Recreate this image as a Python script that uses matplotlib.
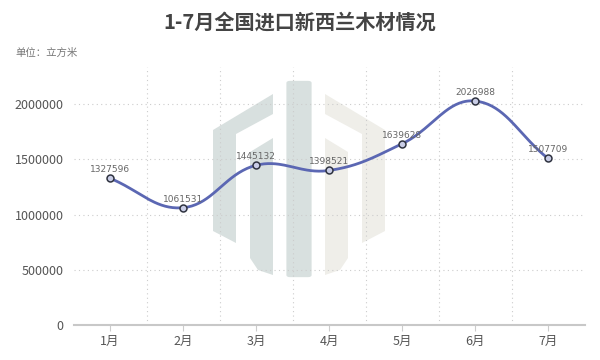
import matplotlib
matplotlib.use('Agg')
import matplotlib.pyplot as plt
import numpy as np
from matplotlib.patches import Polygon, FancyBboxPatch

plt.rcParams['font.family'] = ['Noto Sans CJK SC', 'DejaVu Sans']

# Data
months = ["1月", "2月", "3月", "4月", "5月", "6月", "7月"]
volumes = [1327596, 1061531, 1445132, 1398521, 1639628, 2026988, 1507709]
y_ticks = [0, 500000, 1000000, 1500000, 2000000]

W, H = 600, 360
fig = plt.figure(figsize=(6, 3.6), dpi=100)
ax = fig.add_axes([73.5 / W, 1 - 325 / H, 511 / W, 258 / H])
ax.set_zorder(2)
ax.set_facecolor('none')

# Watermark logo (background decoration, pixel coords)
def px(pts):
    return [(x / W, 1 - y / H) for x, y in pts]

green = '#d8e0df'
beige = '#efeee9'
left_outer = [(273, 94), (273, 114), (236, 134), (236, 243), (213, 231), (213, 130)]
left_inner = [(273, 138), (273, 275), (258, 270), (250, 258), (250, 152)]
for poly in [left_outer, left_inner]:
    fig.patches.append(Polygon(px(poly), closed=True, transform=fig.transFigure,
                               facecolor=green, edgecolor='none', zorder=0))
    mirrored = [(598 - x, y) for x, y in poly]
    fig.patches.append(Polygon(px(mirrored), closed=True, transform=fig.transFigure,
                               facecolor=beige, edgecolor='none', zorder=0))
fig.patches.append(FancyBboxPatch((290 / W, 1 - 275 / H), 18 / W, 192 / H,
                                  boxstyle="round,pad=0.006", transform=fig.transFigure,
                                  facecolor=green, edgecolor='none', zorder=0))

# Smooth curve (bezier like echarts smooth)
x = np.arange(len(months), dtype=float)
y = np.array(volumes, dtype=float)
sx, sy = 73.0, 110.5 / 1e6
P = np.column_stack([x * sx, y * sy])
smooth = 0.4
n = len(P)
cps = []
for i in range(n):
    prev = P[max(i - 1, 0)]
    nxt = P[min(i + 1, n - 1)]
    v = (nxt - prev) * smooth
    d0 = np.linalg.norm(P[i] - prev)
    d1 = np.linalg.norm(P[i] - nxt)
    s = d0 + d1 if d0 + d1 > 0 else 1
    cps.append((P[i] - v * d0 / s, P[i] + v * d1 / s))
curve = []
t = np.linspace(0, 1, 40)[:, None]
for i in range(n - 1):
    p0, p3 = P[i], P[i + 1]
    p1, p2 = cps[i][1], cps[i + 1][0]
    seg = (1 - t) ** 3 * p0 + 3 * (1 - t) ** 2 * t * p1 + 3 * (1 - t) * t ** 2 * p2 + t ** 3 * p3
    curve.append(seg)
curve = np.vstack(curve)
ax.plot(curve[:, 0] / sx, curve[:, 1] / sy, color='#5b67b3', lw=2, zorder=3)
ax.plot(x, y, 'o', ms=5, mfc='#c9cde6', mec='#2f3340', mew=1.1, zorder=4)
for xi, yi in zip(x, volumes):
    ax.annotate(str(yi), (xi, yi), xytext=(0, 3), textcoords='offset points',
                ha='center', va='bottom', fontsize=6.5, color='#666666',
                family=['DejaVu Sans'], zorder=5)

ax.set_xlim(-0.5, len(months) - 0.5)
ax.set_ylim(0, 258 / 110.5 * 1e6)
ax.set_yticks(y_ticks)
ax.set_yticklabels([str(v) for v in y_ticks])
ax.set_xticks(x)
ax.set_xticklabels(months)
ax.set_xticks(np.arange(0.5, len(months) - 0.5), minor=True)
ax.tick_params(axis='y', length=0, pad=7, labelsize=9, labelcolor='#555555')
ax.tick_params(axis='x', which='major', length=4, color='#cccccc', pad=3,
               labelsize=9, labelcolor='#555555')
ax.tick_params(axis='x', which='minor', length=0)
ax.grid(axis='y', which='major', linestyle=(0, (1, 3)), color='#cccccc', lw=0.8)
ax.grid(axis='x', which='minor', linestyle=(0, (1, 3)), color='#cccccc', lw=0.8)
for side in ['left', 'right', 'top']:
    ax.spines[side].set_visible(False)
ax.spines['bottom'].set_color('#c8c8c8')
ax.spines['bottom'].set_linewidth(1.5)

fig.text(0.5, 1 - 22 / H, "1-7月全国进口新西兰木材情况", ha='center', va='center',
         fontsize=14.5, fontweight='bold', color='#444444')
fig.text(15 / W, 1 - 53 / H, "单位：立方米", ha='left', va='center',
         fontsize=7.5, color='#777777')

fig.savefig('out.png', dpi=100)
